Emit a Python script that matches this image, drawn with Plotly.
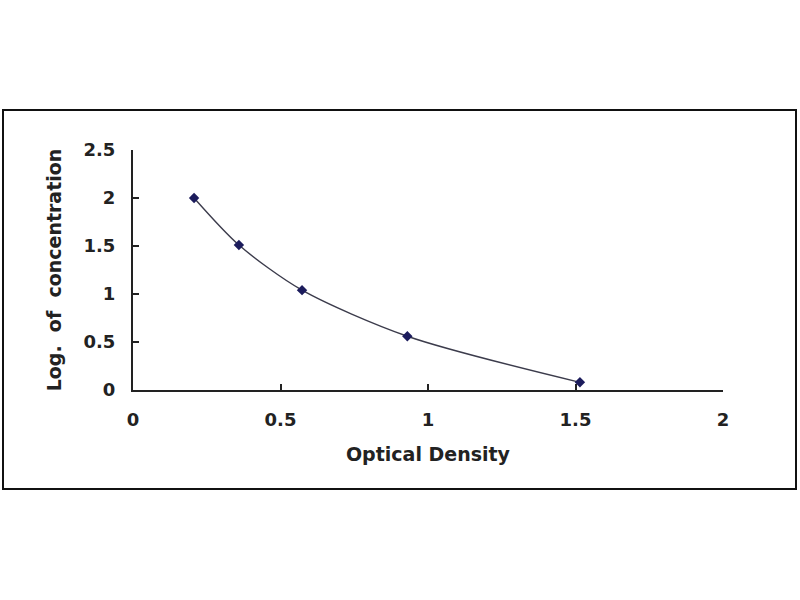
import plotly.graph_objects as go

optical_density = [0.207, 0.359, 0.573, 0.930, 1.515]
log_concentration = [2.00, 1.51, 1.04, 0.56, 0.08]

x_ticks = [0, 0.5, 1, 1.5, 2]
x_labels = ["0", "0.5", "1", "1.5", "2"]
y_ticks = [0, 0.5, 1, 1.5, 2, 2.5]
y_labels = ["0", "0.5", "1", "1.5", "2", "2.5"]

fig = go.Figure()
fig.add_trace(go.Scatter(
    x=optical_density, y=log_concentration,
    mode="lines+markers",
    line=dict(color="#3c3c4c", width=1.4, shape="spline", smoothing=0.8),
    marker=dict(symbol="diamond", size=8, color="#1c1c5c"),
    showlegend=False,
))

font = dict(family="DejaVu Sans, Verdana, sans-serif", size=18, color="#222222", weight="bold")

fig.update_layout(
    width=800, height=600,
    paper_bgcolor="white", plot_bgcolor="white",
    margin=dict(l=133, r=77, t=150, b=210),
    font=font,
    xaxis=dict(
        range=[0, 2], tickvals=x_ticks, ticktext=x_labels,
        tickfont=dict(size=18),
        showgrid=False, zeroline=False, showline=True, linecolor="#222222", linewidth=2,
        ticks="inside", ticklen=6, tickwidth=2, tickcolor="#222222",
        ticklabelstandoff=12,
        title=dict(text="Optical Density", font=dict(size=19), standoff=19),
    ),
    yaxis=dict(
        range=[0, 2.5], tickvals=y_ticks, ticktext=y_labels,
        tickfont=dict(size=18),
        showgrid=False, zeroline=False, showline=True, linecolor="#222222", linewidth=2,
        ticks="inside", ticklen=6, tickwidth=2, tickcolor="#222222",
        ticklabelstandoff=12,
        title=dict(text="Log.  of  concentration", font=dict(size=19), standoff=17),
    ),
    shapes=[dict(
        type="rect", xref="paper", yref="paper",
        x0=(3 - 133) / 590, x1=(796 - 133) / 590,
        y0=(390 - 489) / 240, y1=(390 - 110) / 240,
        line=dict(color="#111111", width=2), fillcolor="rgba(0,0,0,0)", layer="below",
    )],
)

fig.write_html("out.html", config={"displayModeBar": False},
               post_script="document.body.style.margin='0';")
